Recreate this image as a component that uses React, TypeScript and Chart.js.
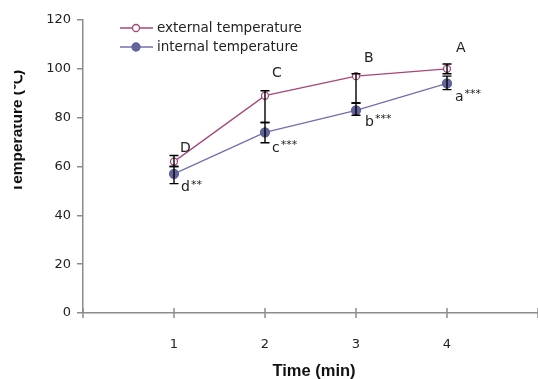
import React, { useEffect, useRef } from "react";
import { Chart, registerables } from "chart.js";
Chart.register(...registerables);

const times = [1, 2, 3, 4];
const externalTemp = [62, 89, 97, 100];
const internalTemp = [57, 74, 83, 94];
const externalLow = [60, 78, 86, 98];
const externalHigh = [64.5, 91, 98, 102];
const internalLow = [53, 69.7, 81, 91.5];
const internalHigh = [60, 78, 86, 97];
const externalLetters = ["D", "C", "B", "A"];
const internalLetters = ["d", "c", "b", "a"];
const internalStars = ["**", "***", "***", "***"];
const yTicks = [0, 20, 40, 60, 80, 100, 120];
const xTickLabels = ["1", "2", "3", "4"];
const seriesNames = ["external temperature", "internal temperature"];
const yTitle = "Temperature (\u2103)";
const xTitle = "Time (min)";

const extColor = "#a8457a";
const intColor = "#6f6fb0";
const intFill = "#62629c";
const axisColor = "#8c8c8c";
const fontFamily = "'DejaVu Sans', Verdana, sans-serif";

const extOffsets = [[6, -13], [7, -22], [8, -18], [9, -20]];
const intOffsets = [[7, 14], [7, 16], [9, 12], [8, 14]];

const overlay = {
  id: "overlay",
  afterDatasetsDraw(chart: any) {
    const ctx = chart.ctx;
    const xs = chart.scales.x;
    const ys = chart.scales.y;
    ctx.save();
    // error bars
    ctx.strokeStyle = "#000";
    ctx.lineWidth = 1.4;
    const bar = (x: number, lo: number, hi: number) => {
      const px = xs.getPixelForValue(x);
      const py1 = ys.getPixelForValue(lo);
      const py2 = ys.getPixelForValue(hi);
      ctx.beginPath();
      ctx.moveTo(px, py1);
      ctx.lineTo(px, py2);
      ctx.moveTo(px - 4.5, py1);
      ctx.lineTo(px + 4.5, py1);
      ctx.moveTo(px - 4.5, py2);
      ctx.lineTo(px + 4.5, py2);
      ctx.stroke();
    };
    times.forEach((t, i) => {
      bar(t, externalLow[i], externalHigh[i]);
      bar(t, internalLow[i], internalHigh[i]);
    });
    // letters
    ctx.fillStyle = "#222";
    ctx.textBaseline = "middle";
    ctx.textAlign = "left";
    times.forEach((t, i) => {
      const px = xs.getPixelForValue(t);
      const pe = ys.getPixelForValue(externalTemp[i]);
      const pi = ys.getPixelForValue(internalTemp[i]);
      ctx.font = `14px ${fontFamily}`;
      ctx.fillText(externalLetters[i], px + extOffsets[i][0], pe + extOffsets[i][1]);
      const lx = px + intOffsets[i][0];
      const ly = pi + intOffsets[i][1];
      ctx.fillText(internalLetters[i], lx, ly);
      const w = ctx.measureText(internalLetters[i]).width;
      ctx.font = `11px ${fontFamily}`;
      ctx.fillText(internalStars[i], lx + w + 1, ly - 3);
    });
    // x tick marks crossing axis
    ctx.strokeStyle = axisColor;
    ctx.lineWidth = 1.5;
    const base = ys.getPixelForValue(0);
    [0, 1, 2, 3, 4, 5].forEach((v) => {
      const px = xs.getPixelForValue(v);
      ctx.beginPath();
      ctx.moveTo(px, base - 5);
      ctx.lineTo(px, base + 5);
      ctx.stroke();
    });
    // legend
    const legendY = [28, 47];
    const colors = [extColor, intColor];
    seriesNames.forEach((name, i) => {
      const y = legendY[i];
      ctx.strokeStyle = colors[i];
      ctx.lineWidth = 1.3;
      ctx.beginPath();
      ctx.moveTo(120, y);
      ctx.lineTo(153, y);
      ctx.stroke();
      ctx.beginPath();
      ctx.arc(136, y, i === 0 ? 3.5 : 4, 0, Math.PI * 2);
      ctx.fillStyle = i === 0 ? "#fff" : intFill;
      ctx.fill();
      ctx.strokeStyle = i === 0 ? extColor : intFill;
      ctx.stroke();
      ctx.fillStyle = "#222";
      ctx.font = `13.5px ${fontFamily}`;
      ctx.fillText(name, 157, y);
    });
    // axis titles
    ctx.fillStyle = "#111";
    ctx.font = "bold 16.5px 'Liberation Sans', Arial, sans-serif";
    ctx.textAlign = "center";
    ctx.fillText(xTitle, 314, 371);
    ctx.save();
    ctx.beginPath();
    ctx.rect(14, 0, 100, 379);
    ctx.clip();
    ctx.font = "bold 15.5px 'Liberation Sans', Arial, sans-serif";
    ctx.translate(18, 131);
    ctx.rotate(-Math.PI / 2);
    ctx.fillText(yTitle, 0, 0);
    ctx.restore();
    ctx.restore();
  },
};

export default function App() {
  const ref = useRef<HTMLCanvasElement>(null);
  useEffect(() => {
    if (!ref.current) return;
    const chart = new Chart(ref.current, {
      type: "line",
      data: {
        datasets: [
          {
            label: seriesNames[0],
            data: times.map((t, i) => ({ x: t, y: externalTemp[i] })),
            borderColor: extColor,
            borderWidth: 1.3,
            backgroundColor: "#fff",
            pointBackgroundColor: "#fff",
            pointBorderColor: extColor,
            pointRadius: 3.5,
            pointBorderWidth: 1.3,
          },
          {
            label: seriesNames[1],
            data: times.map((t, i) => ({ x: t, y: internalTemp[i] })),
            borderColor: intColor,
            borderWidth: 1.3,
            backgroundColor: intFill,
            pointBackgroundColor: intFill,
            pointBorderColor: intFill,
            pointRadius: 4.5,
          },
        ],
      },
      options: {
        animation: false,
        responsive: false,
        maintainAspectRatio: false,
        layout: { autoPadding: false, padding: { left: 0, right: 0, top: 20, bottom: 0 } },
        plugins: { legend: { display: false }, tooltip: { enabled: false } },
        scales: {
          x: {
            type: "linear",
            min: 0,
            max: 5,
            afterFit: (s: any) => {
              s.height = 66;
              s.paddingLeft = 0;
              s.paddingRight = 0;
            },
            afterBuildTicks: (s: any) => {
              s.ticks = [0, 1, 2, 3, 4, 5].map((v) => ({ value: v }));
            },
            ticks: {
              padding: 16,
              color: "#222",
              font: { size: 13, family: fontFamily },
              callback: (v: any) => {
                const idx = times.indexOf(Number(v));
                return idx >= 0 ? xTickLabels[idx] : "";
              },
            },
            grid: { display: false },
            border: { display: true, color: axisColor, width: 1.5 },
          },
          y: {
            min: 0,
            max: 120,
            afterFit: (s: any) => {
              s.width = 83;
            },
            afterBuildTicks: (s: any) => {
              s.ticks = yTicks.map((v) => ({ value: v }));
            },
            ticks: {
              padding: 6,
              color: "#222",
              font: { size: 13, family: fontFamily },
            },
            grid: {
              display: true,
              drawOnChartArea: false,
              drawTicks: true,
              tickLength: 6,
              color: axisColor,
              lineWidth: 1.5,
            },
            border: { display: true, color: axisColor, width: 1.5 },
          },
        },
      },
      plugins: [overlay],
    });
    return () => chart.destroy();
  }, []);
  return (
    <div style={{ position: "fixed", left: 0, top: 0, width: 538, height: 379, background: "#fff" }}>
      <canvas ref={ref} width={538} height={379} style={{ width: 538, height: 379 }} />
    </div>
  );
}
